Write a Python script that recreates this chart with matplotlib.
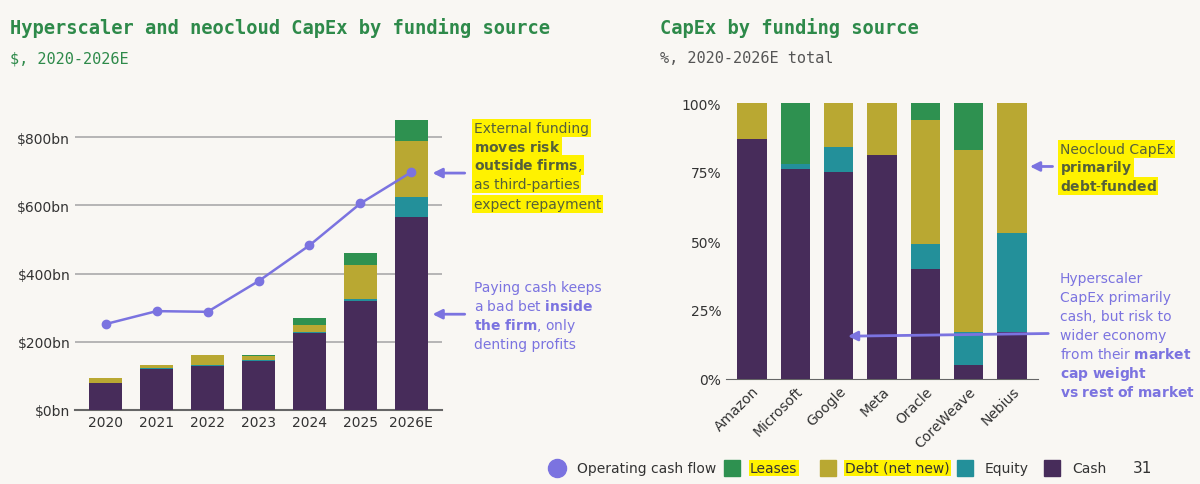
import matplotlib.pyplot as plt
import numpy as np
from matplotlib.ticker import FuncFormatter

plt.rcParams['mathtext.fontset'] = 'custom'
plt.rcParams['mathtext.bf'] = 'DejaVu Sans:bold'
plt.rcParams['mathtext.rm'] = 'DejaVu Sans'

years = ['2020','2021','2022','2023','2024','2025','2026E']
cash = [79,120,130,145,226,320,566]
equity = [0,2,2,1,4,5,59]
debt = [15,10,29,11,20,101,164]
leases = [0,0,0,4,20,34,61]
ocf = [252,290,288,378,483,606,698]

firms = ['Amazon','Microsoft','Google','Meta','Oracle','CoreWeave','Nebius']
p_cash = [87,76,75,81,40,5,17]
p_equity = [0,2,9,0,9,12,36]
p_debt = [13,0,16,19,45,66,47]
p_leases = [0,22,0,0,6,17,0]

C_CASH='#472c5a'; C_EQ='#23909a'; C_DEBT='#b9a832'; C_LEASE='#2e9150'; C_OCF='#7b73e0'
BG='#f9f7f3'; GREEN='#2e8a4a'; HL='#fff200'; OLIVE='#55603a'

W, H = 1200, 485
fig = plt.figure(figsize=(12,4.85), dpi=100, facecolor=BG)
ax1 = fig.add_axes([75/W, 74/H, 367/W, 300/H], facecolor=BG)
ax2 = fig.add_axes([726/W, 105/H, 312/W, 276/H], facecolor=BG)

def stack(ax, x, layers, cols, w):
    b = np.zeros(len(x))
    for v,c in zip(layers,cols):
        ax.bar(x, v, bottom=b, color=c, width=w, zorder=3)
        b += np.array(v)

x = np.arange(len(years))
stack(ax1, x, [cash,equity,debt,leases], [C_CASH,C_EQ,C_DEBT,C_LEASE], 0.66)
ax1.plot(x, ocf, color=C_OCF, marker='o', ms=6, lw=1.8, zorder=4)
ax1.set_ylim(0,880); ax1.set_xlim(-0.6,6.6)
ax1.set_yticks([0,200,400,600,800])
ax1.yaxis.set_major_formatter(FuncFormatter(lambda v,p: f'${int(v)}bn'))
ax1.set_xticks(x); ax1.set_xticklabels(years)
ax1.grid(axis='y', color='#aaaaaa', lw=1.2, zorder=0)
for s in ['top','right','left']: ax1.spines[s].set_visible(False)
ax1.spines['bottom'].set_color('#666666'); ax1.spines['bottom'].set_linewidth(1.5)
ax1.tick_params(length=0, labelsize=10, colors='#333333')

xf = np.arange(len(firms))
stack(ax2, xf, [p_cash,p_equity,p_debt,p_leases], [C_CASH,C_EQ,C_DEBT,C_LEASE], 0.67)
ax2.set_ylim(0,100); ax2.set_xlim(-0.6,6.6)
ax2.set_yticks([0,25,50,75,100])
ax2.yaxis.set_major_formatter(FuncFormatter(lambda v,p: f'{int(v)}%'))
ax2.set_xticks(xf); ax2.set_xticklabels(firms, rotation=45, ha='right', rotation_mode='anchor', fontsize=8)
for s in ['top','right','left']: ax2.spines[s].set_visible(False)
ax2.spines['bottom'].set_color('#666666')
ax2.tick_params(length=0, labelsize=10, colors='#333333')

mono = 'DejaVu Sans Mono'
fig.text(0.008,0.93,'Hyperscaler and neocloud CapEx by funding source', family=mono, weight='bold', color=GREEN, fontsize=13.5)
fig.text(0.008,0.87,'$, 2020-2026E', family=mono, color=GREEN, fontsize=11)
fig.text(0.55,0.93,'CapEx by funding source', family=mono, weight='bold', color=GREEN, fontsize=13.5)
fig.text(0.55,0.87,'%, 2020-2026E total', family=mono, color='#555555', fontsize=11)

def lines(xpx, ypxs, texts, color, hl):
    for y, t in zip(ypxs, texts):
        kw = dict(bbox=dict(facecolor=HL, edgecolor='none', pad=1.2)) if hl else {}
        fig.text(xpx/W, 1-y/H, t, color=color, fontsize=10, va='center', **kw)

lines(474, [129,147,166,185,205],
      ['External funding', r'$\bf{moves\ risk}$', r'$\bf{outside\ firms}$,', 'as third-parties', 'expect repayment'], OLIVE, True)
lines(474, [288,307,326,345],
      ['Paying cash keeps', r'a bad bet $\bf{inside}$', r'$\bf{the\ firm}$, only', 'denting profits'], C_OCF, False)
lines(1060, [150,168,187],
      ['Neocloud CapEx', r'$\bf{primarily}$', r'$\bf{debt}$-$\bf{funded}$'], OLIVE, True)
lines(1060, [279,298,317,336,355,374,393],
      ['Hyperscaler', 'CapEx primarily', 'cash, but risk to', 'wider economy', r'from their $\bf{market}$',
       r'$\bf{cap\ weight}$', r'$\bf{vs\ rest\ of\ market}$'], C_OCF, False)

ap = dict(arrowstyle='-|>', color=C_OCF, lw=2, mutation_scale=14)
ax1.annotate('', xy=(6.36,695), xytext=(7.1,695), arrowprops=ap, annotation_clip=False)
ax1.annotate('', xy=(6.36,281), xytext=(7.1,281), arrowprops=ap, annotation_clip=False)
ax2.annotate('', xy=(6.35,77), xytext=(7.0,77), arrowprops=ap, annotation_clip=False)
ax2.annotate('', xy=(2.15,15.5), xytext=(6.9,16.5), arrowprops=ap, annotation_clip=False)

# legend
ly = 1-469/H
items = [('Operating cash flow',C_OCF,'o',False,557,577),('Leases',C_LEASE,'s',True,732,750),
         ('Debt (net new)',C_DEBT,'s',True,828,845),('Equity',C_EQ,'s',False,965,985),('Cash',C_CASH,'s',False,1052,1072)]
for lab,c,m,h,mx,tx in items:
    fig.lines.append(plt.Line2D([mx/W],[ly],marker=m,ms=13 if m=='o' else 12,color=c,transform=fig.transFigure,ls=''))
    kw = dict(bbox=dict(facecolor=HL, edgecolor='none', pad=1)) if h else {}
    fig.text(tx/W,ly,lab,fontsize=10,va='center',color='#333333',**kw)
fig.text(1133/W,ly,'31',fontsize=11,va='center',color='#333333')
fig.savefig('out.png', facecolor=BG)
